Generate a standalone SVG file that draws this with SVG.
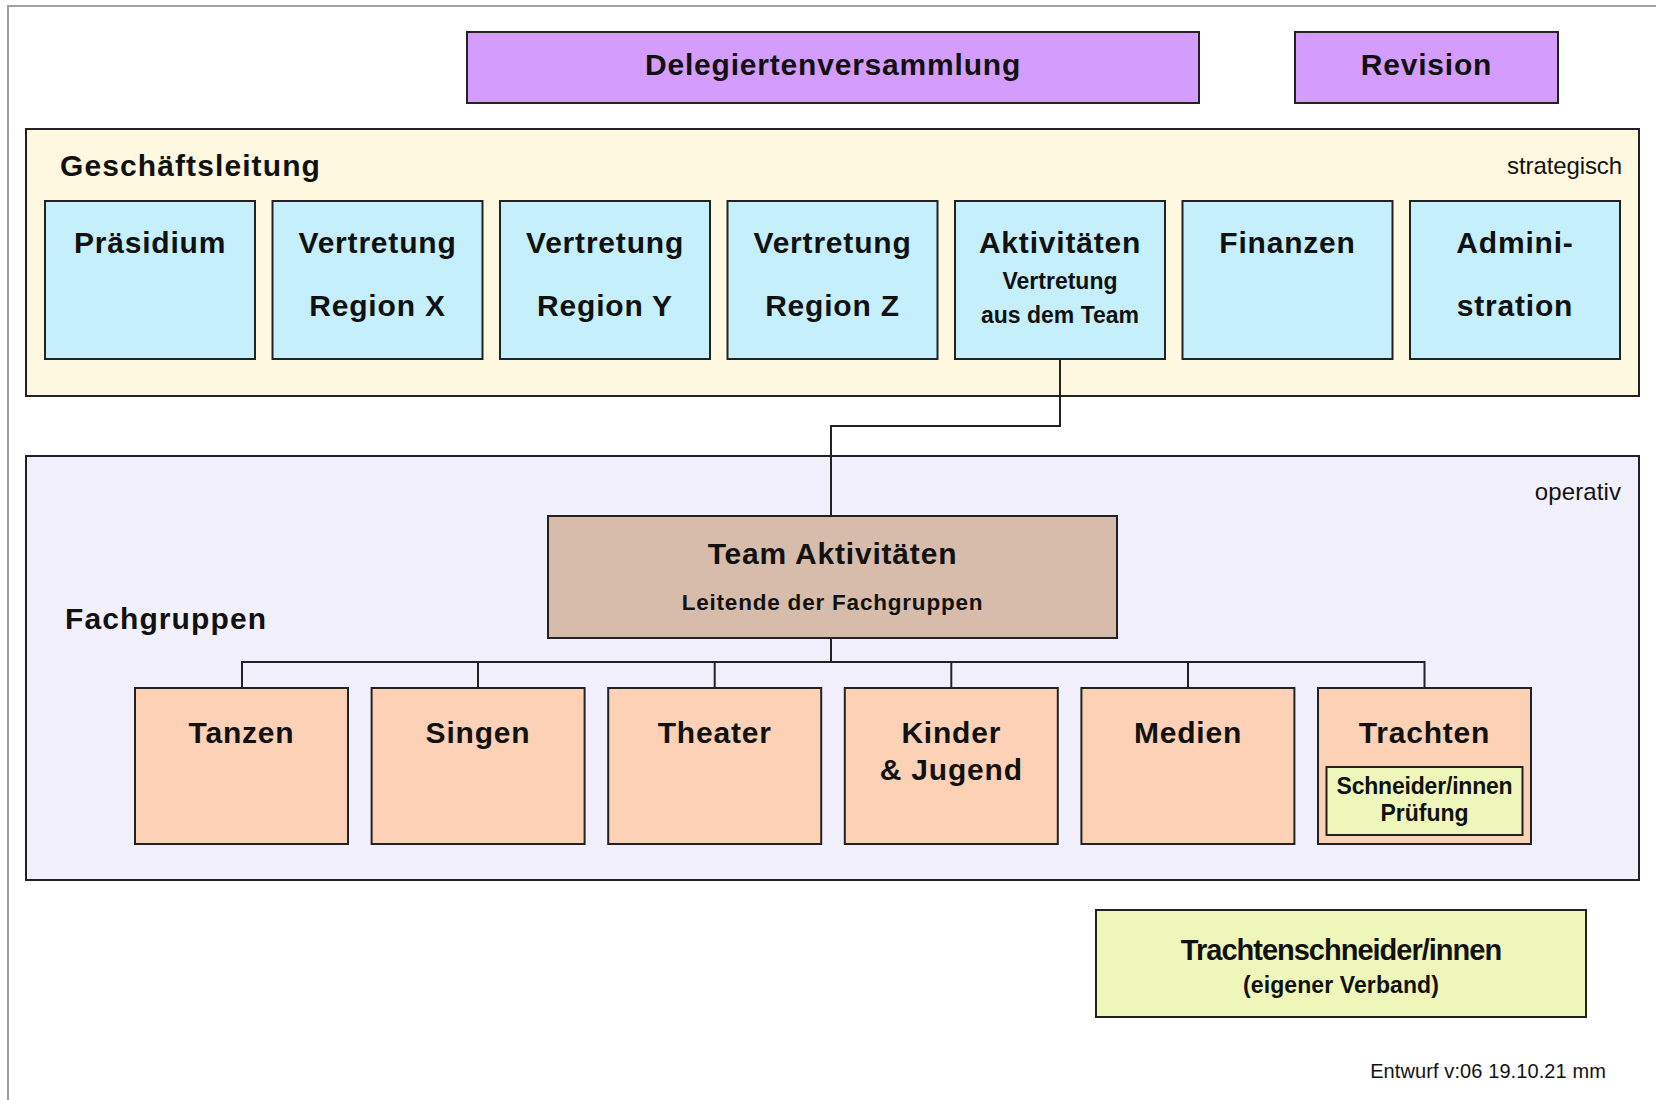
<svg xmlns="http://www.w3.org/2000/svg" width="1656" height="1100" viewBox="0 0 1656 1100">
<style>
.box{stroke:#222;stroke-width:2}
.t{font-family:"Liberation Sans",Arial,sans-serif;fill:#111;text-anchor:middle}
.b30{font-size:30px;font-weight:bold;letter-spacing:0.8px}
.b23{font-size:23px;font-weight:bold}
.r{font-family:"Liberation Sans",Arial,sans-serif;fill:#111;text-anchor:end}
.h{font-family:"Liberation Sans",Arial,sans-serif;fill:#111;font-size:30px;font-weight:bold;letter-spacing:1.1px}
.line{fill:none;stroke:#222;stroke-width:2}
</style>
<rect width="1656" height="1100" fill="#fff"/>
<path d="M8 1100 V6 H1656" fill="none" stroke="#a0a0a0" stroke-width="2"/>

<g id="delegiertenversammlung">
<rect class="box" x="467" y="32" width="732" height="71" fill="#d49cfc"/>
<text class="t b30" x="833" y="75">Delegiertenversammlung</text>
</g>
<g id="revision">
<rect class="box" x="1295" y="32" width="263" height="71" fill="#d49cfc"/>
<text class="t b30" x="1426.5" y="75">Revision</text>
</g>

<g id="geschaeftsleitung">
<rect class="box" x="26" y="129" width="1613" height="267" fill="#fff8e0"/>
<text class="h" x="60" y="176">Geschäftsleitung</text>
<text class="r" x="1622" y="174" font-size="24" letter-spacing="-0.1">strategisch</text>
</g>

<g id="praesidium">
<rect class="box" x="45" y="201" width="210" height="158" fill="#c6effc"/>
<text class="t b30" x="150" y="253">Präsidium</text>
</g>
<g id="region-x">
<rect class="box" x="272.5" y="201" width="210" height="158" fill="#c6effc"/>
<text class="t b30" x="377.5" y="253">Vertretung</text>
<text class="t b30" x="377.5" y="316">Region X</text>
</g>
<g id="region-y">
<rect class="box" x="500" y="201" width="210" height="158" fill="#c6effc"/>
<text class="t b30" x="605" y="253">Vertretung</text>
<text class="t b30" x="605" y="316">Region Y</text>
</g>
<g id="region-z">
<rect class="box" x="727.5" y="201" width="210" height="158" fill="#c6effc"/>
<text class="t b30" x="832.5" y="253">Vertretung</text>
<text class="t b30" x="832.5" y="316">Region Z</text>
</g>
<g id="aktivitaeten">
<rect class="box" x="955" y="201" width="210" height="158" fill="#c6effc"/>
<text class="t b30" x="1060" y="253">Aktivitäten</text>
<text class="t b23" x="1060" y="289">Vertretung</text>
<text class="t b23" x="1060" y="323">aus dem Team</text>
</g>
<g id="finanzen">
<rect class="box" x="1182.5" y="201" width="210" height="158" fill="#c6effc"/>
<text class="t b30" x="1287.5" y="253">Finanzen</text>
</g>
<g id="administration">
<rect class="box" x="1410" y="201" width="210" height="158" fill="#c6effc"/>
<text class="t b30" x="1515" y="253">Admini-</text>
<text class="t b30" x="1515" y="316">stration</text>
</g>

<g id="operativ">
<rect class="box" x="26" y="456" width="1613" height="424" fill="#f3f0fe"/>
<text class="r" x="1621" y="500" font-size="24" letter-spacing="0.1">operativ</text>
<text class="h" x="65" y="629">Fachgruppen</text>
</g>

<g id="connectors">
<path class="line" d="M1060 359 V426 H831 V516"/>
<path class="line" d="M831 638 V662"/>
<path class="line" d="M242 688 V662 H1424.5 V688"/>
<path class="line" d="M478 662 V688 M714.7 662 V688 M951.3 662 V688 M1188 662 V688"/>
</g>

<g id="team-aktivitaeten">
<rect class="box" x="548" y="516" width="569" height="122" fill="#d7bcac"/>
<text class="t b30" x="832.5" y="564">Team Aktivitäten</text>
<text class="t" x="832.5" y="610" font-size="22.5" font-weight="bold" letter-spacing="0.8">Leitende der Fachgruppen</text>
</g>

<g id="tanzen">
<rect class="box" x="135" y="688" width="213" height="156" fill="#fdd1b5"/>
<text class="t b30" x="241.5" y="742.5">Tanzen</text>
</g>
<g id="singen">
<rect class="box" x="371.6" y="688" width="213" height="156" fill="#fdd1b5"/>
<text class="t b30" x="478" y="742.5">Singen</text>
</g>
<g id="theater">
<rect class="box" x="608.2" y="688" width="213" height="156" fill="#fdd1b5"/>
<text class="t b30" x="714.7" y="742.5">Theater</text>
</g>
<g id="kinder-jugend">
<rect class="box" x="844.8" y="688" width="213" height="156" fill="#fdd1b5"/>
<text class="t b30" x="951.3" y="742.5">Kinder</text>
<text class="t b30" x="951.3" y="780">&amp; Jugend</text>
</g>
<g id="medien">
<rect class="box" x="1081.4" y="688" width="213" height="156" fill="#fdd1b5"/>
<text class="t b30" x="1188" y="742.5">Medien</text>
</g>
<g id="trachten">
<rect class="box" x="1318" y="688" width="213" height="156" fill="#fdd1b5"/>
<text class="t b30" x="1424.5" y="742.5">Trachten</text>
<rect class="box" x="1326.5" y="767" width="196" height="68" fill="#eef6b9"/>
<text class="t b23" x="1424.5" y="794" letter-spacing="-0.2">Schneider/innen</text>
<text class="t b23" x="1424.5" y="820.5">Prüfung</text>
</g>

<g id="trachtenschneider">
<rect class="box" x="1096" y="910" width="490" height="107" fill="#eef6b9"/>
<text class="t" x="1341" y="960" font-size="29" font-weight="bold" letter-spacing="-1">Trachtenschneider/innen</text>
<text class="t b23" x="1341" y="993" letter-spacing="0.1">(eigener Verband)</text>
</g>

<text class="r" x="1606" y="1078" font-size="20" letter-spacing="0.1">Entwurf v:06 19.10.21 mm</text>
</svg>
